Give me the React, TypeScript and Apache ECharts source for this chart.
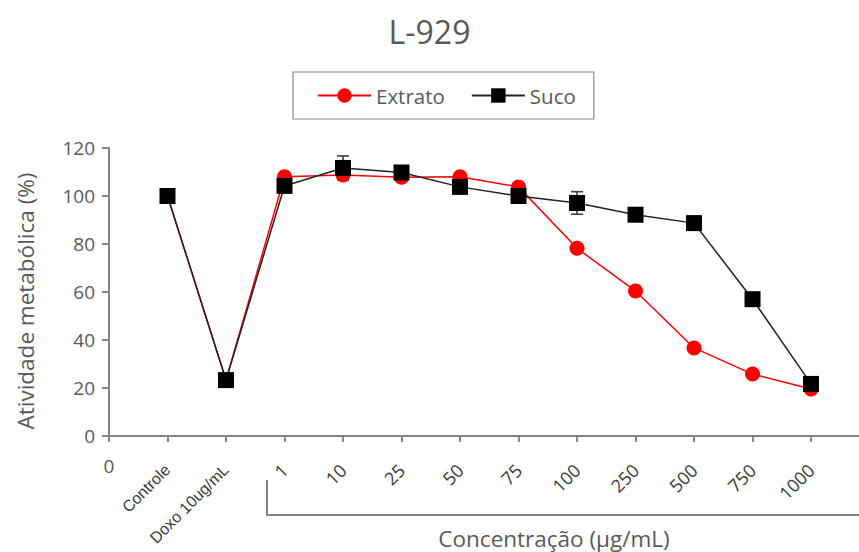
import React, { useEffect, useRef } from "react";
import * as echarts from "echarts";

const title = "L-929";
const xLabels = ["0", "Controle", "Doxo 10ug/mL", "1", "10", "25", "50", "75", "100", "250", "500", "750", "1000"];
const yTicks = [0, 20, 40, 60, 80, 100, 120];
const extrato = [100, 23.3, 108, 108.7, 107.8, 108, 103.8, 78.2, 60.4, 36.7, 25.8, 19.6];
const extratoErr = [0, 0.8, 1, 1.5, 1.5, 1, 1.5, 1, 1.2, 1, 1, 1];
const suco = [100, 23.3, 104.2, 111.7, 109.8, 103.8, 100, 97.1, 92.2, 88.7, 57, 21.7];
const sucoErr = [0, 0.8, 1, 5, 2.2, 1, 1, 4.7, 1, 2.8, 1, 1];
const xName = "Concentração (µg/mL)";
const yName = "Atividade metabólica (%)";

const FONT = "'Open Sans', 'Noto Sans', sans-serif";
const TXT = "#595959";
const AX = "#868686";

export default function App() {
  const ref = useRef<HTMLDivElement>(null);
  useEffect(() => {
    document.body.style.margin = "0";
    const chart = echarts.init(ref.current!, null, { renderer: "svg" });
    const xMax = 12.82;
    const pts = (arr: number[]) => arr.map((v, i) => [i + 1, v]);
    const errPts = (arr: number[], e: number[]) => arr.map((v, i) => [i + 1, v, e[i]]);
    const errRender = (params: any, api: any) => {
      const x = api.value(0), y = api.value(1), e = api.value(2);
      const t = api.coord([x, y + e]);
      const b = api.coord([x, y - e]);
      const hw = 6;
      const st = { stroke: "#404040", lineWidth: 1.6 };
      return {
        type: "group",
        children: [
          { type: "line", shape: { x1: t[0], y1: t[1], x2: b[0], y2: b[1] }, style: st },
          { type: "line", shape: { x1: t[0] - hw, y1: t[1], x2: t[0] + hw, y2: t[1] }, style: st },
          { type: "line", shape: { x1: b[0] - hw, y1: b[1], x2: b[0] + hw, y2: b[1] }, style: st },
        ],
      };
    };
    chart.setOption({
      animation: false,
      backgroundColor: "#fff",
      title: {
        text: title,
        left: "center",
        top: 10,
        textStyle: { fontFamily: FONT, fontSize: 32, fontWeight: "normal", color: TXT },
      },
      legend: {
        data: ["Extrato", "Suco"],
        left: 293,
        top: 72,
        padding: [13, 18, 13, 24],
        borderColor: "#888",
        borderWidth: 1.2,
        borderRadius: 0,
        itemWidth: 53,
        itemHeight: 18,
        itemGap: 26,
        textStyle: { fontFamily: FONT, fontSize: 20.5, color: TXT },
      },
      grid: { left: 109, right: 0, top: 148, bottom: 116, containLabel: false },
      xAxis: [
        {
          type: "value",
          min: 0,
          max: xMax,
          interval: 1,
          splitLine: { show: false },
          axisLine: { lineStyle: { color: AX, width: 2 } },
          axisTick: { length: 6, lineStyle: { color: AX, width: 2 }, customValues: [0, 1, 2, 3, 4, 5, 6, 7, 8, 9, 10, 11, 12] },
          axisLabel: {
            customValues: [1, 2, 3, 4, 5, 6, 7, 8, 9, 10, 11, 12],
            rotate: 45,
            margin: 31,
            fontFamily: FONT,
            fontSize: 18,
            color: "#3a3a3a",
            formatter: (v: number) => {
              const s = xLabels[Math.round(v)] ?? "";
              return Math.round(v) <= 2 ? "{s|" + s + "}" : s;
            },
            rich: { s: { fontFamily: "'Liberation Sans', Arial, sans-serif", fontSize: 16, color: "#3a3a3a" } },
          },
        },
        {
          type: "value",
          min: 0,
          max: xMax,
          interval: 1,
          position: "bottom",
          splitLine: { show: false },
          axisLine: { show: false },
          axisTick: { show: false },
          axisLabel: {
            customValues: [0],
            margin: 20,
            fontFamily: FONT,
            fontSize: 19,
            color: TXT,
            formatter: (v: number) => xLabels[Math.round(v)] ?? "",
          },
        },
      ],
      yAxis: {
        type: "value",
        min: yTicks[0],
        max: yTicks[yTicks.length - 1],
        interval: 20,
        name: yName,
        nameLocation: "middle",
        nameGap: 72,
        nameTextStyle: { fontFamily: FONT, fontSize: 22.5, color: TXT, padding: [0, 18, 0, 0] },
        splitLine: { show: false },
        axisLine: { show: true, lineStyle: { color: AX, width: 2 } },
        axisTick: { show: true, length: 7, lineStyle: { color: AX, width: 2 } },
        axisLabel: { fontFamily: FONT, fontSize: 19, color: TXT, margin: 14 },
      },
      series: [
        {
          type: "custom",
          renderItem: errRender,
          data: errPts(extrato, extratoErr),
          encode: { x: 0, y: 1 },
          z: 1,
          silent: true,
        },
        {
          type: "custom",
          renderItem: errRender,
          data: errPts(suco, sucoErr),
          encode: { x: 0, y: 1 },
          z: 1,
          silent: true,
        },
        {
          name: "Extrato",
          type: "line",
          data: pts(extrato),
          symbol: "circle",
          symbolSize: 15,
          lineStyle: { color: "#ff0000", width: 1.5 },
          itemStyle: { color: "#ff0000", borderWidth: 0 },
          z: 2,
        },
        {
          name: "Suco",
          type: "line",
          data: pts(suco),
          symbol: "rect",
          symbolSize: 16,
          lineStyle: { color: "#222", width: 1.5 },
          itemStyle: { color: "#000", borderWidth: 0 },
          z: 3,
        },
      ],
      graphic: [
        { type: "line", shape: { x1: 267, y1: 480, x2: 267, y2: 515 }, style: { stroke: AX, lineWidth: 2 } },
        { type: "line", shape: { x1: 266, y1: 515, x2: 859, y2: 515 }, style: { stroke: AX, lineWidth: 2 } },
        {
          type: "text",
          x: 554,
          y: 538,
          style: { text: xName, fontFamily: FONT, fontSize: 22.5, fill: TXT, align: "center", verticalAlign: "middle" },
        },
      ],
    });
    return () => chart.dispose();
  }, []);
  return <div ref={ref} style={{ width: 859, height: 552 }} />;
}
